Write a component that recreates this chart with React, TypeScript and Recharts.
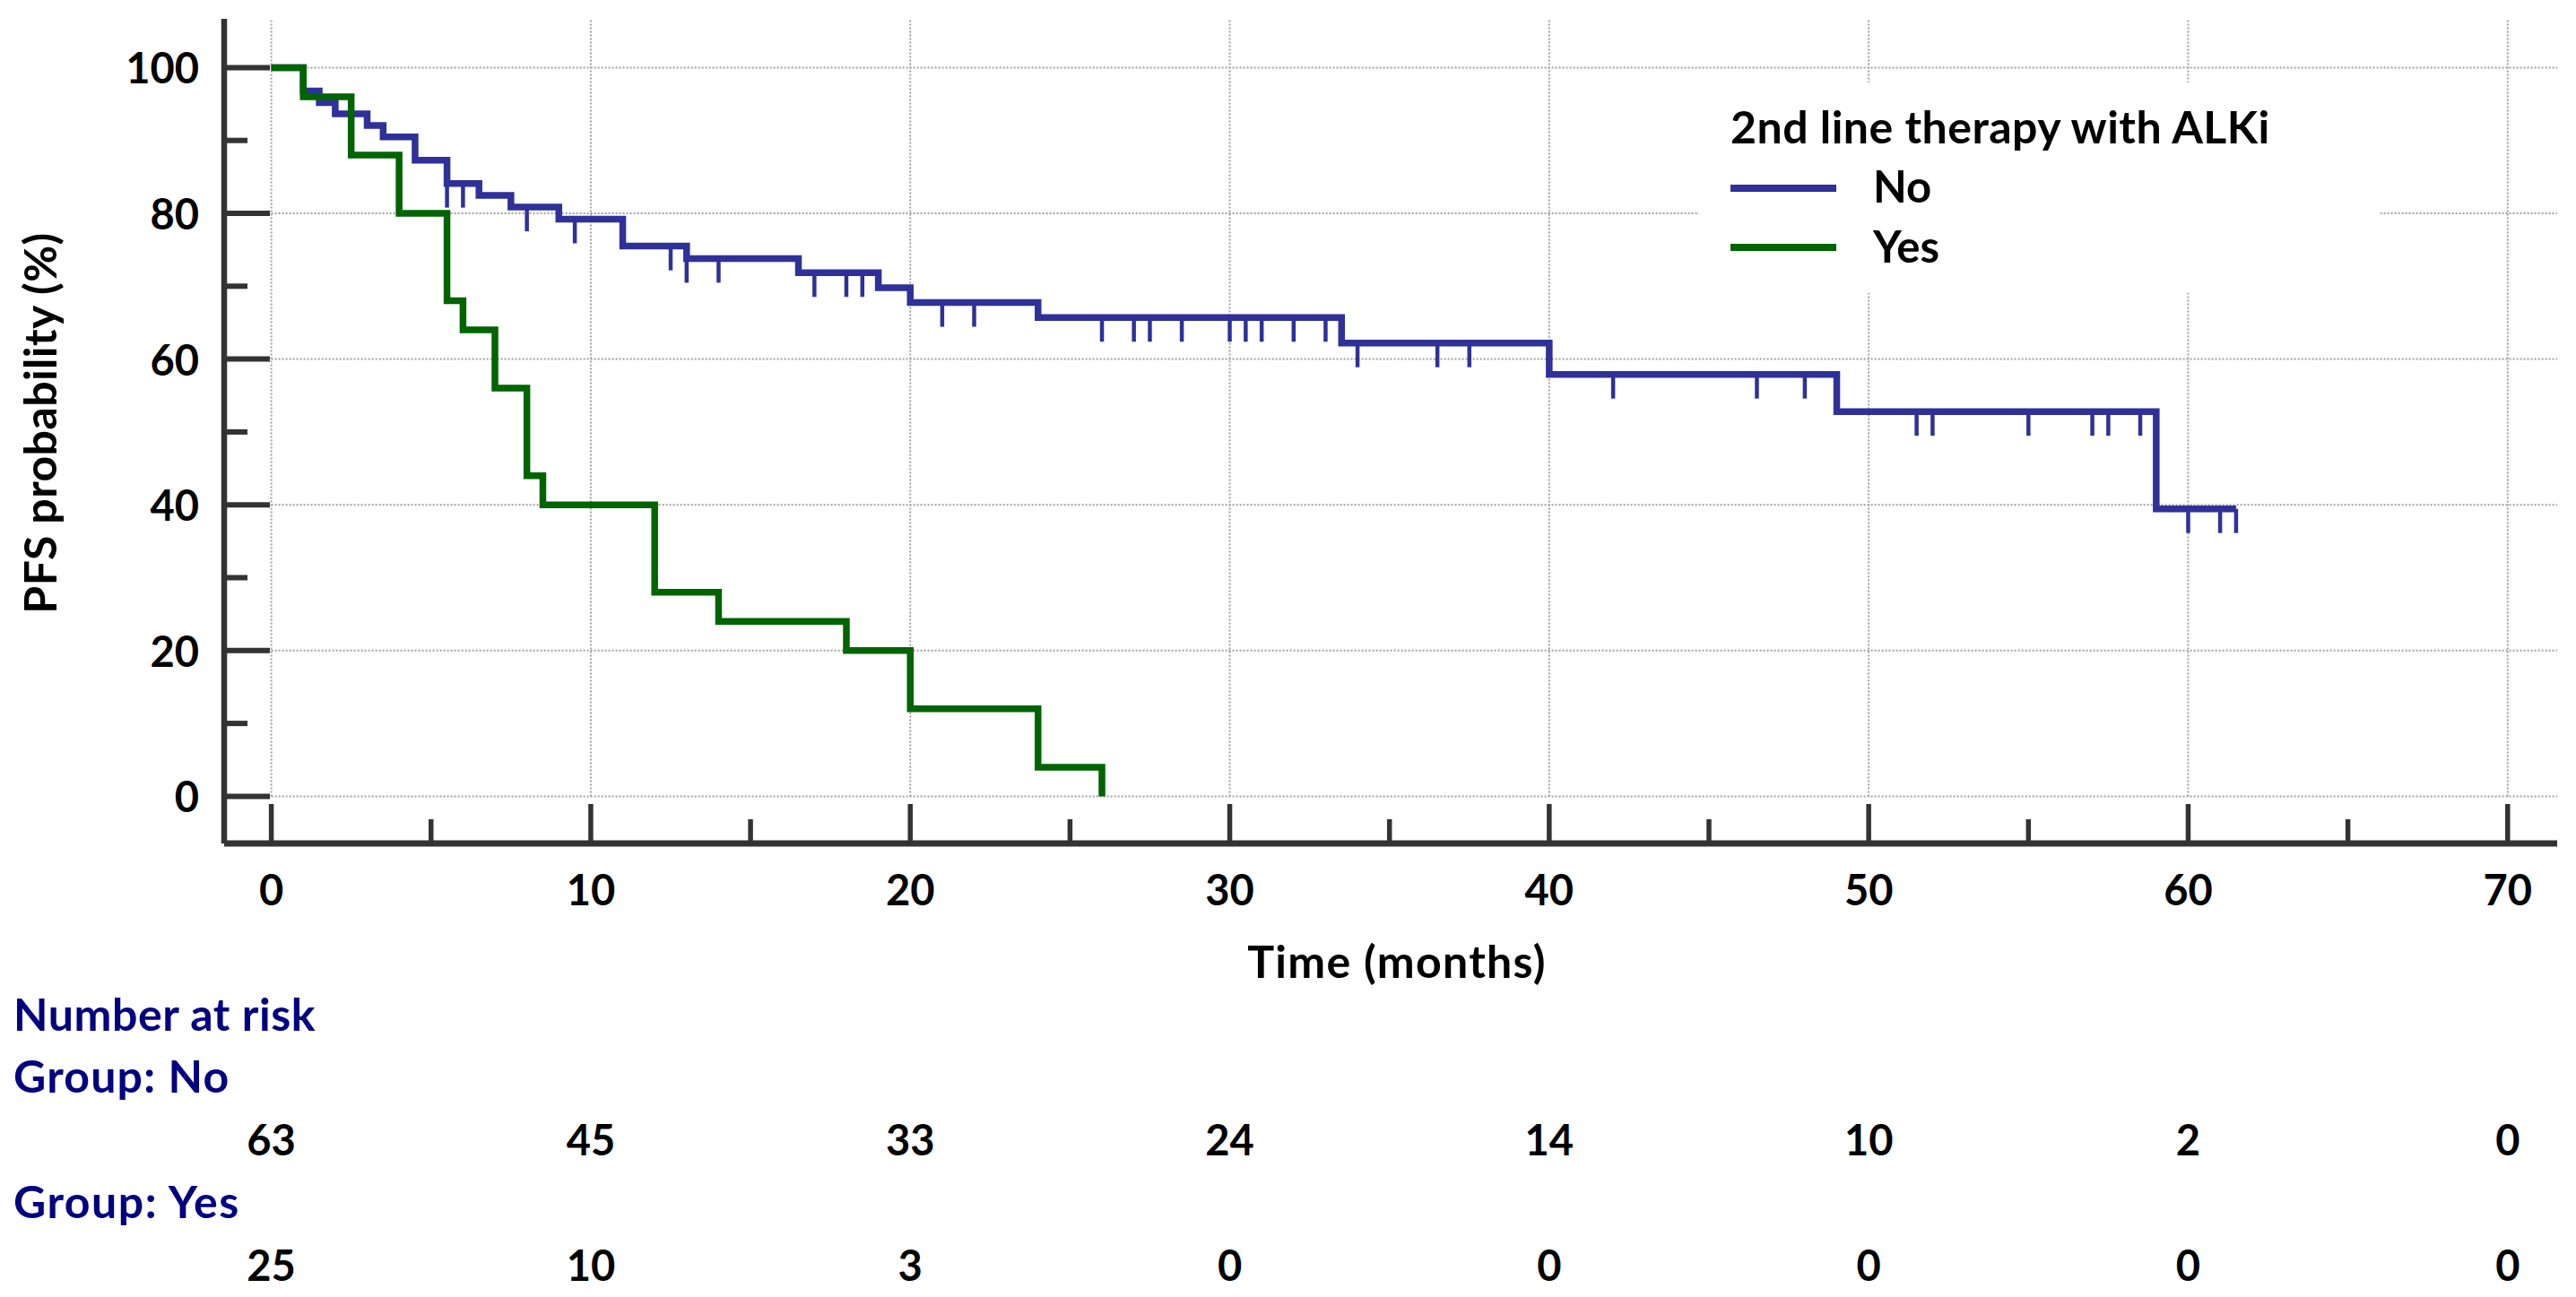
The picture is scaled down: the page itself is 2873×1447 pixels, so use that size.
import React from 'react';
import { ComposedChart, Line, Scatter, XAxis, YAxis, ReferenceLine, Legend } from 'recharts';

// ---- data ----
const noTimes = [0, 1, 1.5, 2, 3, 3.5, 4.5, 5.5, 6.5, 7.5, 9, 11, 13, 16.5, 19, 20, 24, 33.5, 40, 49, 59, 61.5];
const noValues = [100, 96.8, 95.2, 93.65, 92.06, 90.48, 87.3, 84.1, 82.45, 80.85, 79.2, 75.5, 73.8, 71.85, 69.8, 67.75, 65.7, 62.2, 57.9, 52.8, 39.45, 39.45];
const noCensorTimes = [5.5, 6, 8, 9.5, 12.5, 13, 14, 17, 18, 18.5, 21, 22, 26, 27, 27.5, 28.5, 30, 30.5, 31, 32, 33, 34, 36.5, 37.5, 42, 46.5, 48, 51.5, 52, 55, 57, 57.5, 58.5, 60, 61, 61.5];
const yesTimes = [0, 1, 2.5, 4, 5.5, 6, 7, 8, 8.5, 12, 14, 18, 20, 24, 26];
const yesValues = [100, 96, 88, 80, 68, 64, 56, 44, 40, 28, 24, 20, 12, 4, 0];
const xTicks = [0, 5, 10, 15, 20, 25, 30, 35, 40, 45, 50, 55, 60, 65, 70];
const yTicks = [0, 10, 20, 30, 40, 50, 60, 70, 80, 90, 100];
const gridX = [0, 10, 20, 30, 40, 50, 60, 70];
const gridY = [0, 20, 40, 60, 80, 100];
const riskNo = [63, 45, 33, 24, 14, 10, 2, 0];
const riskYes = [25, 10, 3, 0, 0, 0, 0, 0];

const X_MIN = -1.476;
const X_MAX = 71.55;
const Y_MIN = -6.47;
const Y_MAX = 106.69;

const BLUE = '#2f3199';
const GREEN = '#006400';
const AXIS = '#333333';
const NAVY = '#000080';
const FONT = 'Lato, "Open Sans", "Noto Sans", sans-serif';

const noData = noTimes.map((t, i) => ({ t, v: noValues[i] }));
const yesData = yesTimes.map((t, i) => ({ t, v: yesValues[i] }));
const stepLookup = (times: number[], values: number[], t: number) => {
  let v = values[0];
  for (let i = 0; i < times.length; i++) if (times[i] <= t) v = values[i];
  return v;
};
const noCensor = noCensorTimes.map((t) => ({ t, v: stepLookup(noTimes, noValues, t) }));

const txt = (size: number, color = '#000', spacing = 0) => ({
  fontFamily: FONT,
  fontWeight: 700,
  fontSize: size,
  fill: color,
  letterSpacing: spacing,
});

const XTick = (props: any) => {
  const { x, y, payload } = props;
  const t = payload.value;
  const major = t % 10 === 0;
  const i = Math.round(t / 10);
  return (
    <g>
      <line x1={x} x2={x} y1={y - 2} y2={y - (major ? 44 : 27)} stroke={AXIS} strokeWidth={5.5} />
      {major && (
        <text x={x} y={y + 69} textAnchor="middle" style={txt(47)}>
          {t}
        </text>
      )}
      {major && (
        <text x={x} y={y + 348} textAnchor="middle" style={txt(47)}>
          {riskNo[i]}
        </text>
      )}
      {major && (
        <text x={x} y={y + 488} textAnchor="middle" style={txt(47)}>
          {riskYes[i]}
        </text>
      )}
    </g>
  );
};

const YTick = (props: any) => {
  const { x, y, payload } = props;
  const v = payload.value;
  const major = v % 20 === 0;
  return (
    <g>
      <line x1={x + 2} x2={x + (major ? 51 : 26)} y1={y} y2={y} stroke={AXIS} strokeWidth={6} />
      {major && (
        <text x={x - 28} y={y + 18} textAnchor="end" style={txt(47)}>
          {v}
        </text>
      )}
    </g>
  );
};

const XLabel = (props: any) => {
  const vb = props.viewBox || { x: 250, y: 941, width: 2602, height: 506 };
  const cx = vb.x + vb.width / 2 + 7;
  const y0 = vb.y;
  return (
    <g>
      <text x={cx} y={y0 + 150} textAnchor="middle" style={txt(50, '#000', 1.3)}>
        Time (months)
      </text>
      <text x={15} y={y0 + 209} style={txt(50, NAVY, 0.6)}>
        Number at risk
      </text>
      <text x={15} y={y0 + 278} style={txt(50, NAVY, 1.2)}>
        Group: No
      </text>
      <text x={15} y={y0 + 418} style={txt(50, NAVY, 1.5)}>
        Group: Yes
      </text>
    </g>
  );
};

const YLabel = () => (
  <text x={63} y={472} transform="rotate(-90 63 472)" textAnchor="middle" style={txt(50, '#000', 0.4)}>
    PFS probability (%)
  </text>
);

const CensorTick = (props: any) => {
  const { cx, cy } = props;
  if (cx == null || cy == null) return <g />;
  return <line x1={cx} x2={cx} y1={cy} y2={cy + 27} stroke={BLUE} strokeWidth={4.5} />;
};

const LegendContent = (props: any) => {
  const items = (props.payload || []).filter((p: any) => p.type !== 'none');
  return (
    <svg width={760} height={235} style={{ display: 'block', background: '#ffffff' }}>
      <rect x={0} y={0} width={760} height={235} fill="#ffffff" />
      <text x={35} y={68} style={txt(50, '#000', 0.5)}>
        2nd line therapy with ALKi
      </text>
      {items.map((p: any, i: number) => (
        <g key={p.value}>
          <line x1={35} x2={153} y1={118 + 66 * i} y2={118 + 66 * i} stroke={p.color} strokeWidth={8} />
          <text x={194} y={134 + 66.7 * i} style={txt(49)}>
            {p.value}
          </text>
        </g>
      ))}
    </svg>
  );
};

export default function App() {
  return (
    <div style={{ position: 'absolute', left: 0, top: 0, width: 2873, height: 1447, background: '#fff' }}>
      <ComposedChart width={2873} height={1447} margin={{ top: 21, right: 21, bottom: 0, left: 0 }}>
        <XAxis
          dataKey="t"
          type="number"
          domain={[X_MIN, X_MAX]}
          allowDataOverflow
          ticks={xTicks}
          interval={0}
          tickSize={0}
          tickMargin={0}
          tickLine={false}
          axisLine={{ stroke: AXIS, strokeWidth: 7 }}
          height={506}
          tick={XTick}
          label={XLabel}
        />
        <YAxis
          type="number"
          domain={[Y_MIN, Y_MAX]}
          allowDataOverflow
          ticks={yTicks}
          interval={0}
          tickSize={0}
          tickMargin={0}
          tickLine={false}
          axisLine={{ stroke: AXIS, strokeWidth: 6.5 }}
          width={250}
          tick={YTick}
          label={YLabel}
        />
        {gridX.map((t) => (
          <ReferenceLine
            key={'gx' + t}
            segment={[{ x: t, y: 0 }, { x: t, y: Y_MAX }]}
            stroke="#a0a0a0"
            strokeWidth={2}
            strokeDasharray="2 2"
            ifOverflow="visible"
          />
        ))}
        {gridY.map((v) => (
          <ReferenceLine
            key={'gy' + v}
            segment={[{ x: 0, y: v }, { x: X_MAX, y: v }]}
            stroke="#a0a0a0"
            strokeWidth={2}
            strokeDasharray="2 2"
            ifOverflow="visible"
          />
        ))}
        <Line
          data={noData}
          dataKey="v"
          name="No"
          type="stepAfter"
          stroke={BLUE}
          strokeWidth={7.5}
          strokeLinejoin="miter"
          strokeLinecap="butt"
          dot={false}
          activeDot={false}
          isAnimationActive={false}
        />
        <Scatter
          data={noCensor}
          dataKey="v"
          name="No censored"
          legendType="none"
          shape={CensorTick}
          fill={BLUE}
          isAnimationActive={false}
        />
        <Line
          data={yesData}
          dataKey="v"
          name="Yes"
          type="stepAfter"
          stroke={GREEN}
          strokeWidth={7.5}
          strokeLinejoin="miter"
          strokeLinecap="butt"
          dot={false}
          activeDot={false}
          isAnimationActive={false}
        />
        <Legend
          layout="vertical"
          align="center"
          verticalAlign="middle"
          wrapperStyle={{ left: 1895, top: 92, width: 760, height: 235 }}
          content={LegendContent}
        />
      </ComposedChart>
    </div>
  );
}
